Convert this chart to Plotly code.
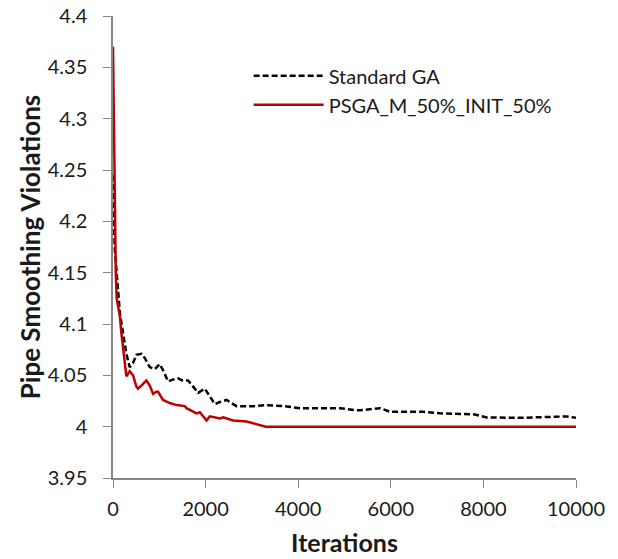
import plotly.graph_objects as go

# Standard GA (dashed black)
ga_iter = [0, 10, 40, 80, 110, 150, 217, 289, 361, 433,
           505, 613, 685, 794, 902, 1010, 1081, 1190, 1300, 1406,
           1500, 1623, 1731, 1839, 1983, 2091, 2200, 2308, 2452, 2668,
           3028, 3316, 3677, 4037, 4398, 4758, 4903, 5263, 5335, 5768,
           5984, 6705, 7065, 7786, 8075, 8795, 9372, 9805, 10000]
ga_viol = [4.245, 4.21, 4.172, 4.146, 4.127, 4.11, 4.091, 4.071, 4.058, 4.062,
           4.070, 4.071, 4.067, 4.058, 4.056, 4.061, 4.055, 4.044, 4.046, 4.047,
           4.045, 4.045, 4.039, 4.033, 4.037, 4.030, 4.022, 4.024, 4.026, 4.020,
           4.020, 4.021, 4.020, 4.018, 4.018, 4.0185, 4.018, 4.016, 4.016, 4.018,
           4.0145, 4.0145, 4.013, 4.012, 4.009, 4.0086, 4.0096, 4.010, 4.0086]

# PSGA_M_50%_INIT_50% (solid red)
psga_iter = [0, 10, 30, 39, 60, 80, 150, 181, 253, 289,
             361, 433, 505, 541, 613, 721, 794, 866, 938, 974,
             1081, 1226, 1371, 1551, 1587, 1803, 1875, 2020, 2091, 2308,
             2380, 2595, 2884, 3244, 3300, 10000]
psga_viol = [4.37, 4.325, 4.238, 4.175, 4.150, 4.125, 4.107, 4.091, 4.065, 4.049,
             4.054, 4.050, 4.039, 4.037, 4.040, 4.045, 4.040, 4.032, 4.034, 4.034,
             4.026, 4.023, 4.021, 4.020, 4.018, 4.013, 4.014, 4.006, 4.010, 4.008,
             4.009, 4.006, 4.005, 4.001, 4.000, 4.000]

x_ticks = [0, 2000, 4000, 6000, 8000, 10000]
x_labels = ["0", "2000", "4000", "6000", "8000", "10000"]
y_ticks = [3.95, 4.0, 4.05, 4.1, 4.15, 4.2, 4.25, 4.3, 4.35, 4.4]
y_labels = ["3.95", "4", "4.05", "4.1", "4.15", "4.2", "4.25", "4.3", "4.35", "4.4"]

FONT = "Lato, 'Open Sans', sans-serif"
AXIS_GREY = "#868686"

fig = go.Figure()
fig.add_trace(go.Scatter(x=ga_iter, y=ga_viol, mode="lines", name="Standard GA",
                         line=dict(color="black", width=2.5, dash="6px,3px")))
fig.add_trace(go.Scatter(x=psga_iter, y=psga_viol, mode="lines", name="PSGA_M_50%_INIT_50%",
                         line=dict(color="#C00000", width=2.5)))

fig.update_layout(
    width=618, height=559,
    paper_bgcolor="white", plot_bgcolor="white",
    margin=dict(l=113, r=42, t=16, b=81),
    font=dict(family=FONT, size=20, color="#1a1a1a"),
    legend=dict(x=0.293, y=0.913, xanchor="left", yanchor="top",
                bgcolor="rgba(0,0,0,0)", font=dict(size=20),
                itemwidth=70, tracegroupgap=0),
    showlegend=True,
)
fig.update_xaxes(range=[0, 10000], tickvals=x_ticks, ticktext=x_labels, showgrid=False,
                 zeroline=False, automargin=False,
                 showline=True, linecolor=AXIS_GREY, linewidth=1.5,
                 ticks="outside", tickcolor=AXIS_GREY, ticklen=8, ticklabelstandoff=4,
                 title=dict(text="<b>Iterations</b>", font=dict(size=25), standoff=16))
fig.update_yaxes(range=[3.95, 4.4], tickvals=y_ticks, ticktext=y_labels, showgrid=False,
                 zeroline=False, automargin=False,
                 showline=True, linecolor=AXIS_GREY, linewidth=1.5,
                 ticks="outside", tickcolor=AXIS_GREY, ticklen=8, ticklabelstandoff=12,
                 title=dict(text="<b>Pipe Smoothing Violations</b>", font=dict(size=26), standoff=0))

# drop the default 8px body margin so the figure sits at the window's corner
fig.write_html("out.html", config={"displayModeBar": False},
               post_script="document.body.style.margin = '0';")
